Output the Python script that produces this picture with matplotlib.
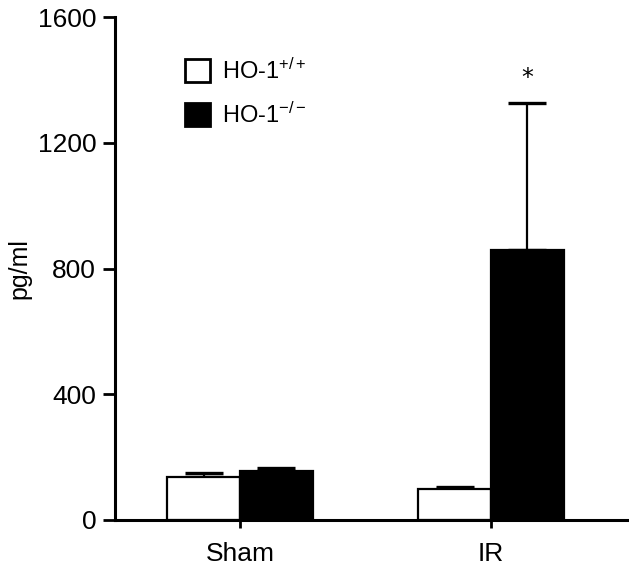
import numpy as np
import matplotlib.pyplot as plt
from matplotlib.patches import Patch

plt.rcParams['font.family'] = ['Liberation Sans', 'DejaVu Sans']
plt.rcParams['mathtext.fontset'] = 'custom'
plt.rcParams['mathtext.rm'] = 'Liberation Sans'
plt.rcParams['mathtext.it'] = 'Liberation Sans'

# data
groups = ['Sham', 'IR']
wt_mean = [137, 98]
wt_err = [13, 7]
ko_mean = [155, 858]
ko_err = [10, 468]
yticks = [0, 400, 800, 1200, 1600]

x = np.arange(len(groups))
w = 0.29

fig = plt.figure(figsize=(6.29, 5.73), dpi=100)
ax = fig.add_axes([0.1828, 0.0925, 0.8172, 0.8778])

ax.bar(x - w / 2, wt_mean, w, color='white', edgecolor='black', linewidth=1.6, zorder=2)
ax.bar(x + w / 2, ko_mean, w, color='black', edgecolor='black', linewidth=1.6, zorder=2)
ax.errorbar(x - w / 2, wt_mean, yerr=[np.zeros(2), wt_err], fmt='none', ecolor='black',
            elinewidth=1.6, capsize=14, capthick=2.4, zorder=1)
ax.errorbar(x + w / 2, ko_mean, yerr=[np.zeros(2), ko_err], fmt='none', ecolor='black',
            elinewidth=1.6, capsize=14, capthick=2.4, zorder=1)

# significance marker
ax.text(x[1] + w / 2, ko_mean[1] + ko_err[1] + 80, '*', ha='center', va='center',
        fontsize=17, family='DejaVu Sans')

ax.set_xlim(-0.498, 1.55)
ax.set_ylim(0, 1600)
ax.set_yticks(yticks)
ax.set_xticks(x)
ax.set_xticklabels(groups)
ax.set_ylabel('pg/ml', fontsize=18)
ax.yaxis.set_label_coords(-0.163, 0.5)

for s in ['top', 'right']:
    ax.spines[s].set_visible(False)
for s in ['left', 'bottom']:
    ax.spines[s].set_linewidth(2.2)
ax.tick_params(axis='y', length=8.5, width=2, labelsize=19, pad=5)
ax.tick_params(axis='x', length=6, width=2, labelsize=19, pad=10)

handles = [Patch(facecolor='white', edgecolor='black', linewidth=2),
           Patch(facecolor='black', edgecolor='black', linewidth=2)]
labels = ['HO-1$^{+/+}$', 'HO-1$^{\u2212/\u2212}$']
ax.legend(handles, labels, loc='upper left', bbox_to_anchor=(0.261, 0.935),
          bbox_transform=fig.transFigure, frameon=False, fontsize=17,
          handlelength=1.06, handleheight=1.1, handletextpad=0.5, labelspacing=0.8)

fig.savefig('out.png', dpi=100)
